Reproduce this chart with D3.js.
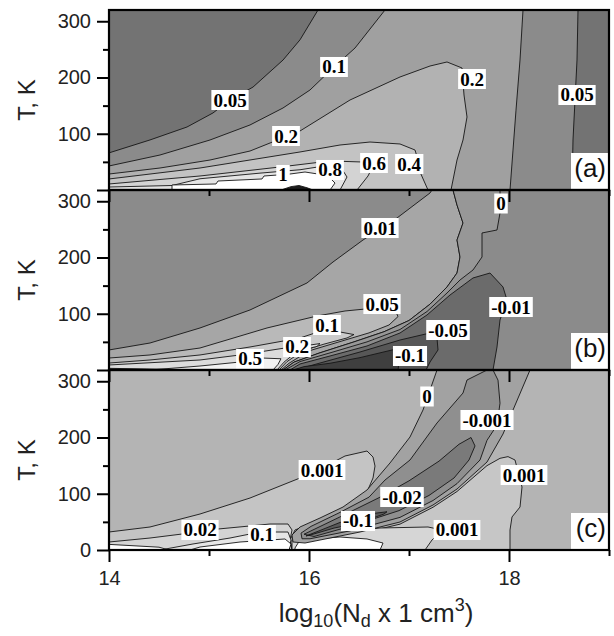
<!DOCTYPE html>
<html>
<head>
<meta charset="utf-8">
<script src="https://cdn.jsdelivr.net/npm/d3@7"></script>
<style>
  body { margin: 0; background: #fff; }
  text { white-space: pre; }
</style>
</head>
<body>
<svg id="chart" width="614" height="636"></svg>
<script>
// axis ticks
const xTicksMajor = [14, 16, 18];
const xTicksMinor = [15, 17, 19];
const yTicksMajor = [0, 100, 200, 300];
const yTicksMinor = [50, 150, 250];

// ---- panel (a): contour regions, [log10 Nd, T] ----
const a_005 = [[14,66],[14.41,89],[14.78,112],[15.04,137],[15.21,160],[15.44,183],[15.74,231],[15.91,267],[16.09,320],[18.69,320],[18.68,231],[18.66,160],[18.64,89],[18.63,0],[14,0]];
const a_01 = [[14,42.7],[14.51,62.2],[15.01,88.9],[15.41,115.6],[15.74,145.8],[16.01,177.8],[16.25,218.7],[16.46,252.4],[16.76,320],[18.14,320],[18.11,231],[18.07,142],[18.04,71],[18.01,0],[14,0]];
const a_02 = [[14,28.4],[14.51,39.1],[15.01,53.3],[15.41,69.3],[15.91,104.9],[16.41,160],[16.91,200.9],[17.21,220.4],[17.38,227.6],[17.53,216.9],[17.55,168.9],[17.58,129.8],[17.54,88.9],[17.48,53.3],[17.42,0],[14,0]];
const a_04 = [[14,19.6],[14.91,39.1],[15.91,67.6],[16.31,80],[16.61,85.3],[16.91,81.8],[17.06,71.1],[17.09,53.3],[17.11,32],[17.19,0],[14,0]];
const a_06 = [[14,10.7],[14.91,24.9],[15.71,40.9],[16.21,51.6],[16.53,49.8],[16.63,39.1],[16.59,24.9],[16.48,0],[14,0]];
const a_08 = [[14,5.3],[14.63,8],[14.91,20],[15.51,30],[15.91,36],[16.09,41],[16.33,37],[16.38,23.1],[16.31,0],[14,0]];
const a_1 = [[14.63,0],[14.63,8.9],[15.07,10.7],[15.09,16],[15.53,19.6],[15.55,24.9],[15.69,26.7],[15.81,28.4],[15.96,32],[16.09,28.4],[16.21,21.3],[16.26,12.4],[16.21,0]];
const a_peak = [[15.72,0],[15.82,6],[15.9,8],[15.98,4],[16.04,0]];
const labelsA = [["0.05",15.21,160],["0.1",16.25,218.7],["0.2",15.77,96],["0.2",17.63,197.3],["0.05",18.68,168.9],["1",15.74,26.7],["0.8",16.21,35.6],["0.6",16.65,48],["0.4",17.0,46.2]];

// ---- panel (b) ----
const b_c001 = [[14,35.6],[14.41,48],[14.91,74.7],[15.41,106.7],[15.98,154.7],[16.24,192],[16.54,231.1],[16.88,270.2],[17.21,314.7],[17.23,320]];
const b_c001b = [[17.44,320],[17.48,293.3],[17.54,261.3],[17.48,231.1],[17.51,200.9],[17.48,172.4],[17.38,147.6],[17.21,117],[17.0,88],[16.75,68],[16.45,50],[16.1,30],[15.85,14],[15.74,0]];
const b_c0 = [[17.91,320],[17.91,279.1],[17.88,248.9],[17.73,243.6],[17.73,200.9],[17.64,177.8],[17.51,160],[17.38,136.9],[17.18,104],[16.91,72],[16.58,50],[16.24,32],[15.91,15],[15.76,0]];
const b_005 = [[14,21.3],[14.41,26.7],[14.91,39.1],[15.58,74.7],[16.08,96],[16.36,104.9],[16.56,108.4],[16.73,113.8],[16.86,106.7],[16.89,95],[16.8,80],[16.6,66],[16.3,50],[16.0,34],[15.8,12],[15.72,0],[14,0]];
const b_01 = [[14,12.4],[14.41,17.8],[14.91,26.7],[15.41,40.9],[15.91,56.9],[16.06,65.8],[16.31,67.6],[16.45,63],[16.38,57],[16.15,46],[15.95,35],[15.78,15],[15.7,0],[14,0]];
const b_02 = [[14,8.9],[14.91,17.8],[15.31,26.7],[15.76,39.1],[16.01,44.4],[16.11,47],[16.08,42],[15.88,33],[15.75,14],[15.68,0],[14,0]];
const b_05 = [[14.41,0],[14.91,7.1],[15.31,14.2],[15.53,21.3],[15.72,20],[15.69,10],[15.64,0]];
const b_m001 = [[15.81,0],[15.91,10.7],[16.21,24.9],[16.58,42.7],[16.91,65.8],[17.18,97.8],[17.41,133.3],[17.64,163.6],[17.81,172.4],[17.94,147.6],[17.98,124.4],[17.91,88.9],[17.88,40.9],[17.84,0]];
const b_m005 = [[15.86,0],[16.11,12.4],[16.51,32],[16.91,53.3],[17.21,65.8],[17.28,56.9],[17.29,35.6],[17.21,14.2],[17.17,0]];
const b_m01 = [[15.84,0],[15.95,6],[16.21,12],[16.51,22],[16.84,36],[16.91,26.7],[16.89,0]];
const b_edge = [[14,0],[14,3],[14.7,0.8],[14.8,0]];
const labelsB = [["0.01",16.71,252.4],["0",17.92,296],["0.05",16.73,117.3],["0.1",16.18,80],["0.2",15.88,40.9],["0.5",15.41,19.6],["-0.01",18.02,112],["-0.05",17.39,71.1],["-0.1",17.01,24.9]];

// ---- panel (c) ----
const c_0001 = [[14,32],[14.41,40.9],[14.91,64],[15.41,92.4],[15.91,128],[16.13,145.8],[16.36,167.1],[16.58,176],[16.64,165.3],[16.66,149.3],[16.64,128],[16.58,103.1],[16.44,80],[16.24,62.2],[16.01,46.2],[15.86,35.6],[15.81,17.8],[15.83,0],[14,0]];
const c_002 = [[14,14.2],[14.41,21.3],[14.73,28.4],[15.09,37.3],[15.41,42.7],[15.61,46.2],[15.79,46.2],[15.83,35.6],[15.81,17.8],[15.83,0],[14,0]];
const c_01 = [[14.51,0],[14.84,10.7],[15.21,21.3],[15.41,28.4],[15.66,32],[15.79,32],[15.82,17.8],[15.80,0]];
const c_w1 = [[14,0],[14,10],[14.5,5],[14.6,0]];
const c_w2 = [[14.81,0],[14.91,5.3],[15.31,14.2],[15.76,19.6],[15.82,10.7],[15.80,0]];
const c_0001r = [[15.83,0],[15.85,12],[16.21,19],[16.51,29],[16.91,46],[17.24,76],[17.48,104],[17.78,150],[17.91,163],[17.99,166],[18.06,160],[18.13,112],[18.11,76.4],[18.03,58.7],[18.01,35.6],[18.01,0]];
const c_0001b = [[15.83,0],[15.83,17.8],[16.21,30.2],[16.71,39.1],[17.19,40.9],[17.33,35.6],[17.23,17.8],[17.16,0]];
const c_w3 = [[15.86,0],[15.86,3.6],[15.91,17.8],[16.31,23.1],[16.58,19.6],[16.74,12.4],[16.71,0]];
const c_0 = [[17.28,320],[17.21,284.4],[17.14,248.9],[17.01,200.9],[16.81,154.7],[16.58,106.7],[16.34,76.4],[16.11,56.9],[15.91,40.9],[15.83,26.7],[15.84,14.2],[15.96,12.4],[16.21,21.3],[16.51,32],[16.91,49.8],[17.24,80],[17.48,108.4],[17.78,156.4],[17.94,206.2],[18.04,248.9],[18.21,320]];
const c_m0001 = [[17.78,320],[17.58,302.2],[17.54,279.1],[17.28,225.8],[17.01,160],[16.76,124.4],[16.6,94],[16.3,66],[16.02,42],[15.92,30],[15.93,20],[16.01,20],[16.41,34],[16.91,58],[17.24,88],[17.48,118],[17.71,160],[17.78,195],[17.88,222],[17.91,261],[17.89,302],[17.84,320]];
const c_m002 = [[15.95,28],[16.3,58],[16.7,93],[17.0,123],[17.3,158],[17.5,188],[17.62,200],[17.66,185],[17.6,160],[17.45,128],[17.2,97],[16.9,70],[16.45,44],[16.05,24]];
const c_m01 = [[15.97,25],[16.1,34],[16.31,49],[16.6,64],[16.78,68],[16.75,64],[16.5,48],[16.25,39],[16.02,27]];
const labelsC = [["0",17.18,272.9],["-0.001",17.78,231.1],["0.001",16.13,142.2],["0.001",18.15,133.3],["-0.02",16.93,94.2],["-0.1",16.49,51.6],["0.001",17.48,35.6],["0.02",14.91,35.6],["0.1",15.53,26.7]];

const regionsA = [
  {level: '0.05', pts: a_005}, {level: '0.1', pts: a_01}, {level: '0.2', pts: a_02},
  {level: '0.4', pts: a_04}, {level: '0.6', pts: a_06}, {level: '0.8', pts: a_08},
  {level: '1', pts: a_1}, {level: 'peak', pts: a_peak}
];
const regionsB = [
  {level: '0.01', pts: [...b_c001, ...b_c001b, [14, 0]]},
  {level: 'band', pts: [...b_c001b, ...b_c0.slice().reverse()]},
  {level: '-0.01', pts: b_m001}, {level: '-0.05', pts: b_m005}, {level: '-0.1', pts: b_m01},
  {level: '0.05', pts: b_005}, {level: '0.1', pts: b_01}, {level: '0.2', pts: b_02},
  {level: '0.5', pts: b_05}, {level: 'edge', pts: b_edge}
];
const regionsC = [
  {level: '0.001', pts: c_0001}, {level: '0.02', pts: c_002}, {level: '0.1', pts: c_01},
  {level: 'w', pts: c_w1}, {level: 'w', pts: c_w2},
  {level: '0.001r', pts: c_0001r}, {level: '0.001b', pts: c_0001b}, {level: 'w', pts: c_w3},
  {level: '0', pts: c_0}, {level: '-0.001', pts: c_m0001}, {level: '-0.02', pts: c_m002},
  {level: '-0.1', pts: c_m01}
];

// grey levels
const fillA = {bg: '#737373', '0.05': '#8b8b8b', '0.1': '#a0a0a0', '0.2': '#b2b2b2', '0.4': '#c3c3c3',
  '0.6': '#d3d3d3', '0.8': '#e4e4e4', '1': '#ffffff', peak: '#1e1e1e'};
const fillB = {bg: '#8b8b8b', '0.01': '#a6a6a6', band: '#979797', '-0.01': '#6b6b6b', '-0.05': '#575757',
  '-0.1': '#3f3f3f', '0.05': '#b9b9b9', '0.1': '#cbcbcb', '0.2': '#dcdcdc', '0.5': '#f2f2f2', edge: '#4a4a4a'};
const fillC = {bg: '#b4b4b4', '0.001': '#c4c4c4', '0.02': '#d4d4d4', '0.1': '#e6e6e6', w: '#ffffff',
  '0.001r': '#c6c6c6', '0.001b': '#d6d6d6', '0': '#a2a2a2', '-0.001': '#8f8f8f', '-0.02': '#7a7a7a', '-0.1': '#5a5a5a'};

const svg = d3.select('#chart');
const left = 109, plotW = 500, plotH = 180;
const x = d3.scaleLinear().domain([14, 19]).range([left, left + plotW]);

const panels = [
  {key: 'a', top: 10, regions: regionsA, labels: labelsA, fill: fillA},
  {key: 'b', top: 190, regions: regionsB, labels: labelsB, fill: fillB},
  {key: 'c', top: 370, regions: regionsC, labels: labelsC, fill: fillC}
];

const defs = svg.append('defs');

// fills, contours and labels
panels.forEach(p => {
  p.y = d3.scaleLinear().domain([0, 320]).range([p.top + plotH, p.top]);
  defs.append('clipPath').attr('id', 'clip-' + p.key)
    .append('rect').attr('x', left).attr('y', p.top).attr('width', plotW).attr('height', plotH);

  const g = svg.append('g').attr('clip-path', `url(#clip-${p.key})`);
  g.append('rect').attr('x', left).attr('y', p.top).attr('width', plotW).attr('height', plotH)
    .attr('fill', p.fill.bg);

  const line = d3.line().x(d => x(d[0])).y(d => p.y(d[1]));
  g.selectAll('path.region')
    .data(p.regions)
    .join('path')
      .attr('class', 'region')
      .attr('d', d => line(d.pts) + 'Z')
      .attr('fill', d => p.fill[d.level])
      .attr('stroke', '#151515')
      .attr('stroke-width', 0.9)
      .attr('stroke-linejoin', 'round');

  p.labels.forEach(([txt, lx, ly]) => {
    const lg = g.append('g');
    const t = lg.append('text')
      .attr('x', x(lx)).attr('y', p.y(ly))
      .attr('text-anchor', 'middle')
      .attr('dominant-baseline', 'central')
      .attr('font-family', 'Liberation Serif, Times New Roman, serif')
      .attr('font-weight', 'bold')
      .attr('font-size', 19)
      .attr('fill', '#000')
      .text(txt);
    const bb = t.node().getBBox();
    lg.insert('rect', 'text')
      .attr('x', bb.x - 2).attr('y', p.y(ly) - 10)
      .attr('width', bb.width + 4).attr('height', 20)
      .attr('fill', '#fff');
  });

  // panel letter
  svg.append('rect').attr('x', 571).attr('y', p.top + 143).attr('width', 38).attr('height', 37).attr('fill', '#fff');
  svg.append('text')
    .attr('x', 606).attr('y', p.top + 167)
    .attr('text-anchor', 'end')
    .attr('font-family', 'Liberation Sans, Arial, sans-serif')
    .attr('font-size', 26)
    .attr('fill', '#111')
    .text(`(${p.key})`);
});

// frames and axes on top
panels.forEach(p => {
  const styleAxis = g => {
    g.select('.domain').remove();
    g.selectAll('.tick line').attr('stroke', '#000').attr('stroke-width', 2);
    g.selectAll('.tick text').attr('font-family', 'Liberation Sans, Arial, sans-serif')
      .attr('font-size', 20).attr('fill', '#222');
  };

  svg.append('g').attr('transform', `translate(${left},0)`)
    .call(d3.axisLeft(p.y).tickValues(yTicksMajor).tickSize(12).tickSizeOuter(0).tickPadding(6)
      .tickFormat(d => (d === 0 && p.key !== 'c') ? '' : d))
    .call(styleAxis);
  svg.append('g').attr('transform', `translate(${left},0)`)
    .call(d3.axisLeft(p.y).tickValues(yTicksMinor).tickSize(6).tickSizeOuter(0).tickFormat(''))
    .call(styleAxis);

  const bottom = p.top + plotH;
  svg.append('g').attr('transform', `translate(0,${bottom})`)
    .call(d3.axisBottom(x).tickValues(xTicksMajor).tickSize(12).tickSizeOuter(0).tickPadding(9)
      .tickFormat(d => p.key === 'c' ? d : ''))
    .call(styleAxis);
  svg.append('g').attr('transform', `translate(0,${bottom})`)
    .call(d3.axisBottom(x).tickValues(xTicksMinor).tickSize(6).tickSizeOuter(0).tickFormat(''))
    .call(styleAxis);

  svg.append('rect')
    .attr('x', left).attr('y', p.top).attr('width', plotW).attr('height', plotH)
    .attr('fill', 'none').attr('stroke', '#000').attr('stroke-width', 2.2);

  svg.append('text')
    .attr('transform', `translate(35,${p.top + plotH / 2}) rotate(-90)`)
    .attr('text-anchor', 'middle')
    .attr('font-family', 'Liberation Sans, Arial, sans-serif')
    .attr('font-size', 24)
    .attr('fill', '#222')
    .text('T, K');
});

// x axis title
const title = svg.append('text')
  .attr('x', 376).attr('y', 622)
  .attr('text-anchor', 'middle')
  .attr('font-family', 'Liberation Sans, Arial, sans-serif')
  .attr('font-size', 26)
  .attr('fill', '#222');
title.append('tspan').text('log');
title.append('tspan').attr('font-size', 18).attr('dy', 5).text('10');
title.append('tspan').attr('dy', -5).text('(N');
title.append('tspan').attr('font-size', 18).attr('dy', 5).text('d');
title.append('tspan').attr('dy', -5).text(' x 1 cm');
title.append('tspan').attr('font-size', 18).attr('dy', -11).text('3');
title.append('tspan').attr('dy', 11).text(')');
</script>
</body>
</html>
